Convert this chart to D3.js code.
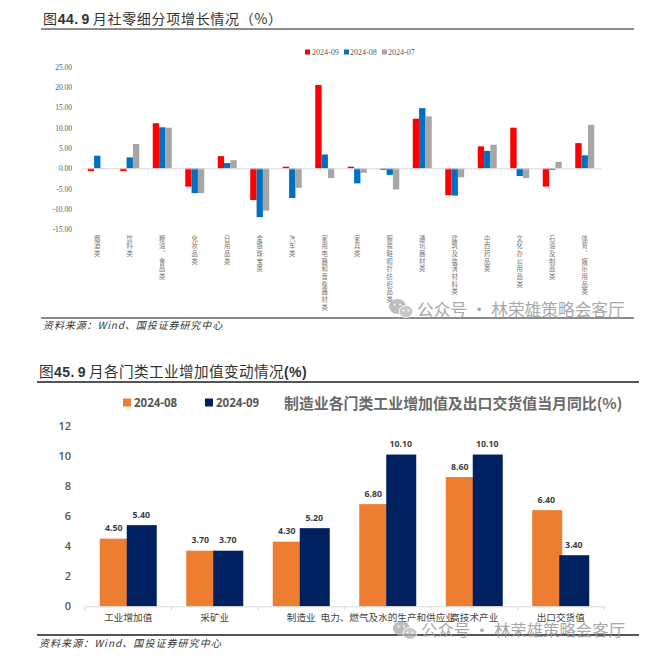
<!DOCTYPE html>
<html><head><meta charset="utf-8">
<script src="https://cdnjs.cloudflare.com/ajax/libs/d3/7.8.5/d3.min.js"></script>
<style>html,body{margin:0;padding:0;background:#fff}svg{display:block}</style></head><body>
<div id="chart"></div>
<script>
const retailCategories=["烟酒类","饮料类","粮油、食品类","化妆品类","日用品类","金银珠宝类","汽车类","家用电器和音像器材类","家具类","服装鞋帽针纺织品类","通讯器材类","建筑及装潢材料类","中西药品类","文化办公用品类","石油及制品类","体育、娱乐用品类"];
const retailSeriesNames=["2024-09","2024-08","2024-07"];
const retail202409=[-0.7,-0.7,11.1,-4.5,3.0,-7.8,0.4,20.5,0.4,-0.4,12.2,-6.6,5.4,10.0,-4.5,6.2];
const retail202408=[3.1,2.7,10.1,-6.1,1.3,-12.0,-7.3,3.4,-3.7,-1.6,14.8,-6.7,4.3,-1.9,-0.4,3.2];
const retail202407=[-0.1,6.0,10.0,-6.1,2.0,-10.4,-4.8,-2.4,-1.1,-5.2,12.8,-2.2,5.8,-2.4,1.6,10.7];
const retailTicks=[25,20,15,10,5,0,-5,-10,-15];
const indCategories=["工业增加值","采矿业","制造业","电力、燃气及水的生产和供应业","高技术产业","出口交货值"];
const indSeriesNames=["2024-08","2024-09"];
const ind202408=[4.5,3.7,4.3,6.8,8.6,6.4];
const ind202409=[5.4,3.7,5.2,10.1,10.1,3.4];
const indTicks=[0,2,4,6,8,10,12];
const retailColors=["#ff0000","#0070c0","#a6a6a6"];
const indColors=["#ed7d31","#002060"];

const svg=d3.select("#chart").append("svg").attr("width",667).attr("height",663);
const CJK='"Noto Sans CJK SC","Noto Sans",sans-serif';
const SERIF='"Liberation Serif","DejaVu Serif",serif';
const LATIN='"Liberation Sans",Arial,sans-serif';

function rule(x1,x2,y,w,c){svg.append("line").attr("x1",x1).attr("x2",x2).attr("y1",y).attr("y2",y).attr("stroke",c).attr("stroke-width",w);}
function heading(x,y,parts,size,spacing){
  const t=svg.append("text").attr("x",x).attr("y",y).attr("font-family",CJK).attr("font-size",size).attr("letter-spacing",spacing).attr("fill","#333");
  parts.forEach(p=>{const s=t.append("tspan").text(p[0]); if(p[1]) s.attr("font-family",LATIN).attr("font-weight",700).attr("font-size",14).attr("letter-spacing",0.5).attr("word-spacing",-1.5);});
}
function source(x,y,sp){svg.append("text").attr("x",x).attr("y",y).attr("font-family",CJK).attr("font-size",10).attr("letter-spacing",sp).attr("font-style","italic").attr("fill","#333").text("资料来源：Wind、国投证券研究中心");}

// panel 1
heading(43,24,[["图"],["44. 9 ",1],["月社零细分项增长情况（%）"]],14,0.7);
rule(41,634,29,2,"#8c8c8c");
const y1=d3.scaleLinear().domain([-15,25]).range([229.3,66.7]);
const x1=d3.scaleBand().domain(retailCategories).range([81,601]);
const s1=d3.scaleBand().domain(retailSeriesNames).range([-9.5,9.5]);
const ax1=svg.append("g").attr("transform","translate(72,0)")
  .call(d3.axisLeft(y1).tickValues(retailTicks).tickSize(0).tickFormat(d=>d3.format(".2f")(d).replace("−","-")));
ax1.select(".domain").remove();
ax1.selectAll("text").attr("x",0).attr("font-family",SERIF).attr("font-size",7.5).attr("fill","#595959");
[retail202409,retail202408,retail202407].forEach((vals,k)=>{
  svg.append("g").selectAll("rect").data(vals).join("rect")
    .attr("x",(d,i)=>x1(retailCategories[i])+x1.bandwidth()/2+s1(retailSeriesNames[k]))
    .attr("width",s1.bandwidth())
    .attr("y",d=>y1(Math.max(d,0)))
    .attr("height",d=>Math.abs(y1(d)-y1(0)))
    .attr("fill",retailColors[k]);
});
const xa1=svg.append("g").attr("transform",`translate(0,${y1(0)})`).call(d3.axisBottom(x1).tickSize(0));
xa1.select(".domain").attr("stroke","#d9d9d9");
xa1.selectAll("text").attr("x",0).attr("y",235-y1(0)).attr("dy",0)
  .attr("font-family",CJK).attr("font-size",6.3).attr("letter-spacing",1.4).attr("fill","#777")
  .attr("text-anchor","start").style("writing-mode","vertical-rl").style("text-orientation","upright");
const lg1=[[305,312],[344,350],[382,388]];
retailSeriesNames.forEach((n,k)=>{
  svg.append("rect").attr("x",lg1[k][0]).attr("y",49.5).attr("width",5).attr("height",5).attr("fill",retailColors[k]);
  svg.append("text").attr("x",lg1[k][1]).attr("y",55).attr("font-family",SERIF).attr("font-size",8).attr("fill","#595959").text(n);
});
rule(41,634,318,2,"#8c8c8c");
source(43,329,0.9);

// panel 2
heading(39,377,[["图"],["45. 9 ",1],["月各门类工业增加值变动情况"],["(%)",1]],14.6,0.4);
rule(37,639,382,2,"#555");
const y2=d3.scaleLinear().domain([0,12]).range([606.3,426]);
const x2=d3.scaleBand().domain(indCategories).range([85,604]);
const ax2=svg.append("g").attr("transform","translate(71,0)")
  .call(d3.axisLeft(y2).tickValues(indTicks).tickSize(0));
ax2.select(".domain").remove();
ax2.selectAll("text").attr("x",0).attr("font-family",'"Open Sans",sans-serif').attr("font-size",11).attr("font-weight",600).attr("fill","#555");
const offs2=[-28.5,-1.5];
[ind202408,ind202409].forEach((vals,k)=>{
  const g=svg.append("g");
  g.selectAll("rect").data(vals).join("rect")
    .attr("x",(d,i)=>x2(indCategories[i])+x2.bandwidth()/2+offs2[k])
    .attr("width",30).attr("y",d=>y2(d)).attr("height",d=>y2(0)-y2(d)).attr("fill",indColors[k]);
  g.selectAll("text").data(vals).join("text")
    .attr("x",(d,i)=>x2(indCategories[i])+x2.bandwidth()/2+offs2[k]+(k?14.5:14))
    .attr("y",d=>y2(d)-7.5).attr("text-anchor","middle")
    .attr("font-family",'"Open Sans",sans-serif').attr("font-size",8.8).attr("font-weight",700).attr("fill","#404040")
    .text(d=>d3.format(".2f")(d));
});
const xa2=svg.append("g").attr("transform",`translate(0,${y2(0)})`)
  .call(d3.axisBottom(x2).tickSize(0));
xa2.select(".domain").attr("stroke","#d9d9d9");
xa2.selectAll("text").attr("y",0).attr("dy",0).attr("transform","translate(0,15)")
  .attr("font-family",CJK).attr("font-size",9.6).attr("fill","#444");
xa2.selectAll(null).data([...indCategories.map(c=>x2(c)),604]).join("line")
  .attr("x1",d=>d).attr("x2",d=>d).attr("y1",0).attr("y2",4).attr("stroke","#d9d9d9");
const lg2=[[123,134],[205,216]];
indSeriesNames.forEach((n,k)=>{
  svg.append("rect").attr("x",lg2[k][0]).attr("y",398.5).attr("width",8).attr("height",8).attr("fill",indColors[k]);
  svg.append("text").attr("x",lg2[k][1]).attr("y",407).attr("font-family",'"Open Sans",sans-serif').attr("font-size",11.5).attr("font-weight",700).attr("fill","#595959").text(n);
});
svg.append("text").attr("x",284).attr("y",409).attr("font-family",CJK).attr("font-size",14.9).attr("font-weight",700).attr("fill","#6a6a6a").text("制造业各门类工业增加值及出口交货值当月同比(%)");
rule(37,639,635,2,"#555");
source(39,647,1.05);

// watermarks
function watermark(ix,iy,tx,ty,size){
  const g=svg.append("g").attr("opacity",0.75);
  g.append("ellipse").attr("cx",ix+8.5).attr("cy",iy+7.5).attr("rx",8.5).attr("ry",7.5).attr("fill","#a8a8a8");
  g.append("ellipse").attr("cx",ix+17).attr("cy",iy+12.5).attr("rx",7).attr("ry",6).attr("fill","#b4b4b4").attr("stroke","#fff").attr("stroke-width",1);
  g.selectAll(null).data([[5.5,5.5],[11,5.5],[14.5,11.5],[19.5,11.5]]).join("circle")
    .attr("cx",d=>ix+d[0]).attr("cy",d=>iy+d[1]).attr("r",1).attr("fill","#fff");
  svg.append("text").attr("x",tx).attr("y",ty).attr("font-family",CJK).attr("font-size",size).attr("fill","#9a9a9a").attr("opacity",0.85).text("公众号 · 林荣雄策略会客厅");
}
watermark(389,299,417,316,16.7);
watermark(393,621,421,636,16.4);
</script></body></html>
